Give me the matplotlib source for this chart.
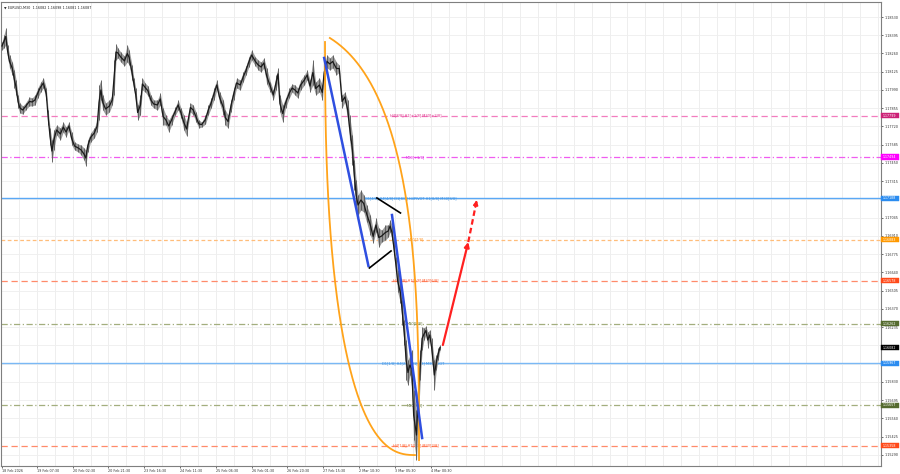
import numpy as np
import matplotlib
matplotlib.use("Agg")
import matplotlib.pyplot as plt
from matplotlib.patches import Rectangle
import matplotlib.transforms as mtransforms

# ---- price data (M30 bars, sampled): bar index, high, low ----
bars = [0, 2, 4, 6, 8, 11, 13, 15, 17, 19, 22, 25, 29, 32, 35, 38, 41, 44, 47, 49,
        51, 53, 55, 58, 62, 65, 68, 71, 74, 77, 81, 84, 87, 89, 91, 94, 98, 101, 103, 105,
        107, 110, 114, 117, 119, 121, 123, 126, 130, 133, 135, 138, 140, 142, 144, 147, 149, 152, 155, 158,
        161, 165, 168, 171, 174, 177, 180, 184, 187, 190, 193, 196, 200, 203, 206, 209, 212, 216, 219, 222,
        225, 228, 231, 235, 237, 240, 243, 246, 249, 253, 256, 259, 262, 265, 269, 272, 275, 278, 281, 285,
        288, 291, 293, 295, 298, 301, 305, 308, 311, 314, 317, 321, 324, 327, 330, 333, 337, 340, 342, 345,
        348, 351, 355, 358, 361, 364, 367, 369, 372, 374, 376, 378, 381, 384, 387, 391, 394, 397, 400, 403,
        407, 410, 412, 414, 416, 418, 420, 423, 425, 427, 429, 431, 433, 435, 437, 440, 442, 444, 446, 448,
        450, 452, 454, 456, 459, 461, 463, 465]
highs = [1.18345, 1.18397, 1.18449, 1.18323, 1.18249, 1.18197, 1.18138, 1.18064, 1.17953, 1.17894,
         1.17872, 1.17894, 1.17938, 1.17931, 1.17953, 1.18005, 1.18049, 1.18079, 1.18005, 1.17842,
         1.17709, 1.17620, 1.17694, 1.17731, 1.17709, 1.17753, 1.17716, 1.17753, 1.17679, 1.17605,
         1.17590, 1.17583, 1.17561, 1.17546, 1.17620, 1.17672, 1.17709, 1.17768, 1.18027, 1.18064,
         1.17953, 1.17894, 1.17916, 1.17953, 1.18212, 1.18330, 1.18301, 1.18271, 1.18242, 1.18323,
         1.18286, 1.18175, 1.18079, 1.18005, 1.17879, 1.17953, 1.18079, 1.18042, 1.18020, 1.17953,
         1.17916, 1.17916, 1.17968, 1.17857, 1.17805, 1.17768, 1.17805, 1.17864, 1.17916, 1.17857,
         1.17805, 1.17753, 1.17894, 1.17879, 1.17827, 1.17768, 1.17753, 1.17805, 1.17879, 1.17931,
         1.18005, 1.18064, 1.17975, 1.17916, 1.17842, 1.17805, 1.17916, 1.18005, 1.18079, 1.18064,
         1.18123, 1.18168, 1.18234, 1.18286, 1.18234, 1.18212, 1.18197, 1.18227, 1.18153, 1.18049,
         1.17990, 1.18101, 1.18153, 1.17953, 1.17879, 1.17931, 1.18005, 1.18034, 1.18027, 1.18005,
         1.18064, 1.18101, 1.18138, 1.18064, 1.18212, 1.18049, 1.18079, 1.18027, 1.18175, 1.18249,
         1.18227, 1.18249, 1.18197, 1.18175, 1.17953, 1.17975, 1.17916, 1.17805, 1.17657, 1.17472,
         1.17324, 1.17213, 1.17250, 1.17213, 1.17139, 1.17065, 1.16954, 1.17043, 1.16969, 1.16954,
         1.16991, 1.16991, 1.17028, 1.16991, 1.16880, 1.16754, 1.16658, 1.16562, 1.16436, 1.16288,
         1.16140, 1.15992, 1.16029, 1.16066, 1.15770, 1.15622, 1.15918, 1.16066, 1.16236, 1.16229,
         1.16243, 1.16199, 1.16214, 1.16155, 1.15992, 1.16029, 1.16081, 1.16103]
lows = [1.18286, 1.18301, 1.18323, 1.18227, 1.18153, 1.18101, 1.18005, 1.17953, 1.17857, 1.17820,
        1.17812, 1.17842, 1.17872, 1.17872, 1.17879, 1.17931, 1.17975, 1.18005, 1.17916, 1.17731,
        1.17583, 1.17457, 1.17546, 1.17657, 1.17620, 1.17679, 1.17642, 1.17694, 1.17583, 1.17546,
        1.17531, 1.17509, 1.17472, 1.17427, 1.17531, 1.17605, 1.17635, 1.17679, 1.17768, 1.17916,
        1.17842, 1.17805, 1.17827, 1.17879, 1.17953, 1.18212, 1.18227, 1.18197, 1.18168, 1.18197,
        1.18175, 1.18064, 1.17990, 1.17901, 1.17768, 1.17805, 1.17990, 1.17975, 1.17946, 1.17879,
        1.17857, 1.17842, 1.17879, 1.17731, 1.17731, 1.17679, 1.17731, 1.17805, 1.17842, 1.17783,
        1.17694, 1.17650, 1.17827, 1.17805, 1.17753, 1.17709, 1.17716, 1.17738, 1.17805, 1.17857,
        1.17916, 1.17990, 1.17894, 1.17805, 1.17731, 1.17709, 1.17827, 1.17916, 1.18005, 1.17990,
        1.18049, 1.18101, 1.18160, 1.18212, 1.18168, 1.18138, 1.18123, 1.18153, 1.18034, 1.17975,
        1.17916, 1.17990, 1.18064, 1.17827, 1.17753, 1.17857, 1.17931, 1.17975, 1.17953, 1.17931,
        1.17990, 1.18027, 1.18064, 1.17975, 1.18027, 1.17953, 1.17975, 1.17916, 1.18064, 1.18153,
        1.18138, 1.18153, 1.18101, 1.18123, 1.17857, 1.17901, 1.17768, 1.17620, 1.17435, 1.17250,
        1.17102, 1.17065, 1.17102, 1.17087, 1.17013, 1.16917, 1.16858, 1.16939, 1.16828, 1.16865,
        1.16880, 1.16902, 1.16939, 1.16880, 1.16769, 1.16658, 1.16495, 1.16414, 1.16251, 1.16103,
        1.15844, 1.15807, 1.15881, 1.15785, 1.15400, 1.15252, 1.15548, 1.15844, 1.16066, 1.16140,
        1.16177, 1.16081, 1.16140, 1.16029, 1.15770, 1.15918, 1.15992, 1.16066]

# ---- Murrey-style levels ----
level_prices = [1.17799, 1.17494, 1.17188, 1.16883, 1.16578, 1.16262, 1.15967, 1.15657, 1.15358]
level_names = ["H4[8/8] H1[+1/8] M30[+2/8]", "M30[+1/8]",
               "D1[4/8] H4[4/8] D1[8/8] H4PIVOT H1[8/8] M30[8/8]", "M30[7/8]",
               "H4[3/8] H1[7/8] M30[6/8]", "M30[5/8]",
               "D1[1/8] H4[2/8] H1[6/8] M30PIVOT", "M30[3/8]",
               "H4[1/8] H1[5/8] M30[2/8]"]
level_label_bar = [412, 428, 385, 431, 415, 430, 403, 430, 415]
level_line_colors = ["#f27cbf", "#f05cf0", "#5aa8f5", "#ffbd7a", "#ff8a6a",
                     "#a3ae7e", "#7ab8f5", "#a3ae7e", "#ff8a6a"]
level_text_colors = ["#e0308a", "#e020e0", "#3a8fe0", "#ff9a30", "#ff5a2a",
                     "#6b7b3a", "#3a8fe0", "#6b7b3a", "#ff5a2a"]
level_box_colors = ["#cc2277", "#ff00ff", "#2b8cf0", "#ff9900", "#ff4a1a",
                    "#556b2f", "#2b8cf0", "#556b2f", "#ff4a1a"]
level_styles = [(0, (5, 3)), (0, (5, 2, 1, 2)), "-", (0, (3, 2)), (0, (5, 3)),
                (0, (5, 2, 1, 2)), "-", (0, (5, 2, 1, 2)), (0, (5, 3))]

last_price = 1.16082

# y ticks / x labels
y_ticks = [1.18530 - 0.00135 * k for k in range(25)]
x_label_bars = [0, 37, 75, 113, 151, 189, 227, 265, 303, 341, 379, 417, 455]
x_labels = ["18 Feb 2026", "19 Feb 07:30", "20 Feb 02:30", "20 Feb 21:30", "23 Feb 16:30",
            "24 Feb 11:30", "25 Feb 06:30", "26 Feb 01:30", "26 Feb 20:30", "27 Feb 15:30",
            "2 Mar 10:30", "3 Mar 05:30", "4 Mar 00:30"]

# drawn objects (bar, price)
blue_lines = [((342, 1.18227), (389, 1.16688)), ((414, 1.17065), (446, 1.15415))]
black_lines = [((398, 1.17191), (423, 1.17080)), ((390, 1.16673), (413, 1.16799))]
red_solid = ((468, 1.16103), (495, 1.16865))
red_dash = ((495, 1.16865), (504, 1.17176))

fig = plt.figure(figsize=(9, 4.74), dpi=100)
ax = fig.add_axes([1 / 900, 8 / 474, 879.5 / 900, 464 / 474])
ax.set_xlim(-1.06, 932.6)
ax.set_ylim(1.15208, 1.18641)

# grid
for b in range(-1, 933, 19):
    ax.axvline(b, color="#ebebeb", lw=0.6, zorder=0)
for p in y_ticks:
    ax.axhline(p, color="#eeeeee", lw=0.6, zorder=0)

# levels
for p, st, lc in zip(level_prices, level_styles, level_line_colors):
    ax.axhline(p, color=lc, lw=1.0 if st == "-" else 0.9, linestyle=st, zorder=1)
for p, name, b, tc in zip(level_prices, level_names, level_label_bar, level_text_colors):
    ax.text(b, p, name, fontsize=2.6, color=tc, va="center", ha="left", zorder=2)

# price bars
t = np.array(bars)
hi = np.array(highs)
lo = np.array(lows)
ax.fill_between(t, lo, hi, color="#9a9a9a", lw=0, zorder=3)
ax.vlines(t, lo, hi, color="#555555", lw=0.6, zorder=3)
ax.plot(t, (hi + lo) / 2, color="#1a1a1a", lw=0.9, zorder=4)

# orange arcs (superellipse quarters)
th = np.linspace(0.3306, np.pi / 2, 200)
ax.plot(263.3 + 179.4 * np.sin(th) ** (2 / 3), 1.15252 + 0.03241 * np.cos(th) ** (2 / 3),
        color="#ffa31a", lw=1.3, zorder=5)
th = np.linspace(0, np.pi / 2, 200)
ax.plot(438.4 - 95.5 * np.cos(th) ** (2 / 2.5), 1.18345 - 0.03056 * np.sin(th) ** (2 / 2.5),
        color="#ffa31a", lw=1.3, zorder=5)

for (a, b) in blue_lines:
    ax.plot([a[0], b[0]], [a[1], b[1]], color="#2f4fe0", lw=1.8, zorder=6)
for (a, b) in black_lines:
    ax.plot([a[0], b[0]], [a[1], b[1]], color="black", lw=1.2, zorder=6)

ax.annotate("", xy=red_solid[1], xytext=red_solid[0],
            arrowprops=dict(arrowstyle="-|>", color="#ff2020", lw=1.6, mutation_scale=7,
                            shrinkA=0, shrinkB=0), zorder=7)
ax.plot([red_dash[0][0], red_dash[1][0]], [red_dash[0][1], red_dash[1][1]],
        color="#ff2020", lw=1.6, linestyle=(0, (2.5, 1.5)), zorder=7)
ax.annotate("", xy=red_dash[1], xytext=(red_dash[1][0] - 1.5, red_dash[1][1] - 0.00052),
            arrowprops=dict(arrowstyle="-|>", color="#ff2020", lw=1.2, mutation_scale=7,
                            shrinkA=0, shrinkB=0), zorder=7)

# axes styling
for s in ax.spines.values():
    s.set_color("#7f7f7f")
    s.set_linewidth(0.8)
ax.yaxis.tick_right()
marker_prices = level_prices + [last_price]
ax.set_yticks(y_ticks)
ax.set_yticklabels(["" if min(abs(v - m) for m in marker_prices) < 0.00025 else f"{v:.5f}"
                    for v in y_ticks])
ax.tick_params(axis="y", labelsize=2.4, length=1.5, width=0.5, pad=1.5, colors="#333333")
ax.set_xticks(x_label_bars)
ax.set_xticklabels(x_labels)
ax.tick_params(axis="x", labelsize=2.4, length=1.5, width=0.5, pad=1.0, colors="#333333")
for lab in ax.get_xticklabels():
    lab.set_ha("left")

# price markers on the right axis
trans = mtransforms.blended_transform_factory(ax.transAxes, ax.transData)
box_w = 18 / 879.5
box_h = 0.00019
for p, c in zip(marker_prices, level_box_colors + ["black"]):
    ax.add_patch(Rectangle((1.0005, p - box_h), box_w, 2 * box_h, transform=trans,
                           facecolor=c, edgecolor=c, lw=0.3, clip_on=False, zorder=10))
    ax.text(1.0025, p, f"{p:.5f}", transform=trans, fontsize=2.3, color="white",
            va="center", ha="left", zorder=11, clip_on=False)

ax.text(0.003, 0.993, "\u25bc EURUSD,M30  1.16082 1.16098 1.16081 1.16087", transform=ax.transAxes,
        fontsize=2.4, color="#222222", va="top", ha="left")

fig.savefig("out.png", dpi=100, facecolor="white")
